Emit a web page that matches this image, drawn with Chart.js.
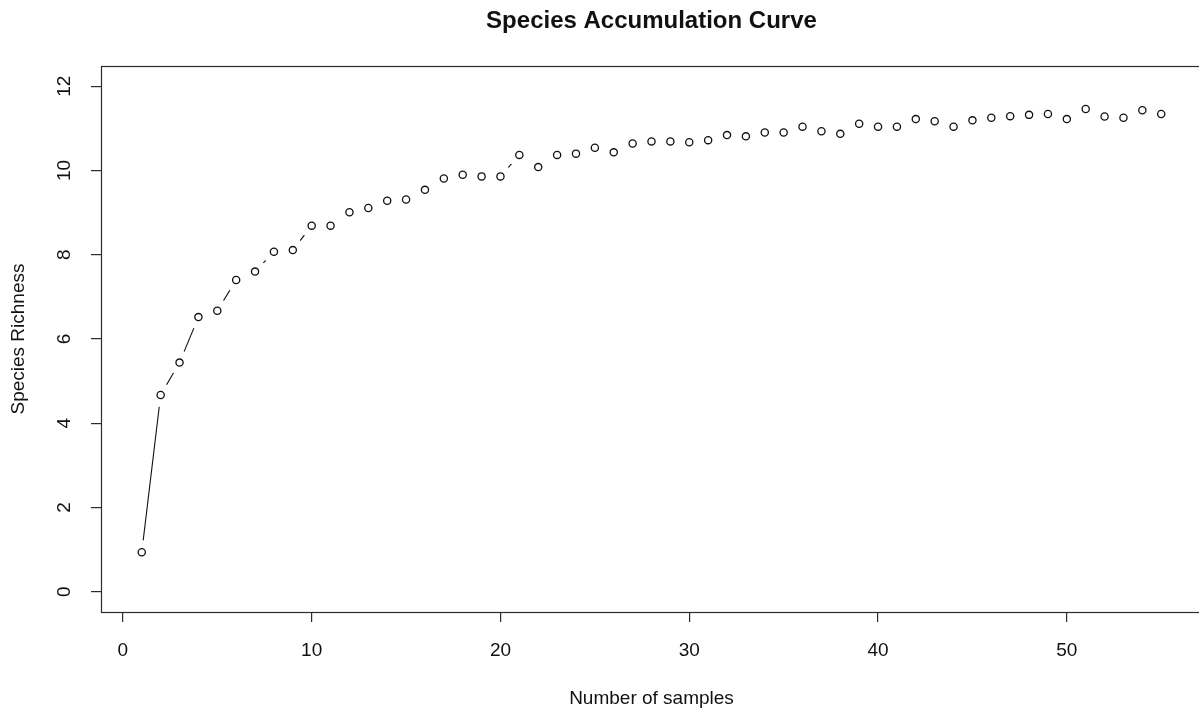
<!DOCTYPE html>
<html>
<head>
<meta charset="utf-8">
<title>Species Accumulation Curve</title>
<script src="https://cdn.jsdelivr.net/npm/chart.js@4.4.1/dist/chart.umd.min.js"></script>
<style>
  html, body { margin: 0; padding: 0; background: #fff; overflow: hidden; }
  #wrap { width: 1215px; height: 713px; }
</style>
</head>
<body>
<div id="wrap"><canvas id="chart" width="1215" height="713"></canvas></div>
<script>
// data
var samples = [1, 2, 3, 4, 5, 6, 7, 8, 9, 10, 11, 12, 13, 14, 15, 16, 17, 18, 19, 20,
               21, 22, 23, 24, 25, 26, 27, 28, 29, 30, 31, 32, 33, 34, 35, 36, 37, 38, 39, 40,
               41, 42, 43, 44, 45, 46, 47, 48, 49, 50, 51, 52, 53, 54, 55];
var richness = [0.94, 4.67, 5.44, 6.52, 6.67, 7.40, 7.60, 8.07, 8.11, 8.69,
                8.69, 9.01, 9.11, 9.28, 9.31, 9.54, 9.81, 9.90, 9.86, 9.86,
                10.37, 10.08, 10.37, 10.40, 10.54, 10.43, 10.64, 10.69, 10.69, 10.67,
                10.72, 10.84, 10.81, 10.90, 10.90, 11.04, 10.93, 10.87, 11.11, 11.04,
                11.04, 11.22, 11.17, 11.04, 11.19, 11.25, 11.29, 11.32, 11.34, 11.22,
                11.46, 11.28, 11.25, 11.43, 11.34];
var xTicks = [0, 10, 20, 30, 40, 50];
var yTicks = [0, 2, 4, 6, 8, 10, 12];
var xRange = [-1.16, 57.16];
var yRange = [-0.48, 12.48];

var titleText = 'Species Accumulation Curve';
var xTitle = 'Number of samples';
var yTitle = 'Species Richness';

var FONT = '"Liberation Sans", Arial, Helvetica, sans-serif';
var INK = '#111';

var pts = samples.map(function(x, i) { return { x: x, y: richness[i] }; });

// R style frame, main title, rotated y labels and axis titles
var rFrame = {
  id: 'rFrame',
  afterDraw: function(chart) {
    var ctx = chart.ctx, a = chart.chartArea;
    var ys = chart.scales.y;
    var cx = (a.left + a.right) / 2;
    ctx.save();
    ctx.strokeStyle = '#2b2b2b';
    ctx.lineWidth = 1.2;
    ctx.strokeRect(Math.round(a.left) + 0.5, Math.round(a.top) + 0.5,
                   Math.round(a.right - a.left), Math.round(a.bottom - a.top));

    ctx.fillStyle = INK;
    ctx.textAlign = 'center';
    ctx.textBaseline = 'alphabetic';
    ctx.font = 'bold 24px ' + FONT;
    ctx.fillText(titleText, cx, 28);

    ctx.font = '19px ' + FONT;
    ctx.textBaseline = 'middle';
    ys.ticks.forEach(function(t) {
      var py = ys.getPixelForValue(t.value);
      ctx.save();
      ctx.translate(65, py);
      ctx.rotate(-Math.PI / 2);
      ctx.fillText(String(t.value), 0, 0);
      ctx.restore();
    });

    ctx.save();
    ctx.translate(19, (a.top + a.bottom) / 2);
    ctx.rotate(-Math.PI / 2);
    ctx.fillText(yTitle, 0, 0);
    ctx.restore();

    ctx.textBaseline = 'alphabetic';
    ctx.fillText(xTitle, cx, 704);
    ctx.restore();
  }
};

new Chart(document.getElementById('chart'), {
  type: 'scatter',
  data: {
    datasets: [
      { // open circles
        data: pts,
        order: 1,
        showLine: false,
        pointRadius: 3.6,
        pointHoverRadius: 3.6,
        pointBackgroundColor: 'rgba(255,255,255,0)',
        pointBorderColor: '#111',
        pointBorderWidth: 1.3
      },
      { // white gap around each point, like type = "b"
        data: pts,
        order: 2,
        showLine: false,
        pointRadius: 12,
        pointHoverRadius: 12,
        pointBackgroundColor: '#fff',
        pointBorderColor: '#fff',
        pointBorderWidth: 0
      },
      { // connecting line
        data: pts,
        order: 3,
        showLine: true,
        borderColor: '#111',
        borderWidth: 1.1,
        pointRadius: 0,
        pointHoverRadius: 0,
        tension: 0
      }
    ]
  },
  options: {
    responsive: false,
    animation: false,
    events: [],
    layout: { padding: { left: 0, right: 13, top: 66, bottom: 0 } },
    plugins: {
      legend: { display: false },
      tooltip: { enabled: false },
      title: { display: false }
    },
    scales: {
      x: {
        type: 'linear',
        min: xRange[0],
        max: xRange[1],
        afterBuildTicks: function(s) { s.ticks = xTicks.map(function(v) { return { value: v }; }); },
        afterFit: function(s) { s.height = 101; },
        border: { display: false },
        grid: { drawOnChartArea: false, drawTicks: true, tickLength: 10, color: '#2b2b2b', lineWidth: 1.2 },
        ticks: {
          color: INK,
          padding: 17,
          maxRotation: 0,
          font: { family: FONT, size: 19 }
        }
      },
      y: {
        type: 'linear',
        min: yRange[0],
        max: yRange[1],
        afterBuildTicks: function(s) { s.ticks = yTicks.map(function(v) { return { value: v }; }); },
        afterFit: function(s) { s.width = 101; s.paddingTop = 0; s.paddingBottom = 0; },
        border: { display: false },
        grid: { drawOnChartArea: false, drawTicks: true, tickLength: 10, color: '#2b2b2b', lineWidth: 1.2 },
        ticks: { display: false }
      }
    }
  },
  plugins: [rFrame]
});
</script>
</body>
</html>
